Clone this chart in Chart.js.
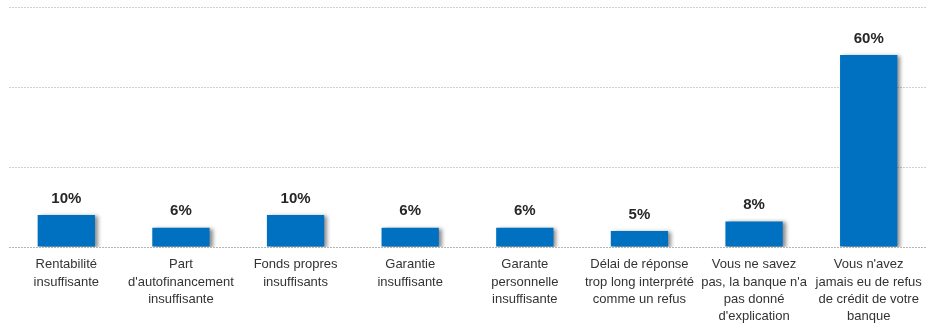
<!DOCTYPE html>
<html>
<head>
<meta charset="utf-8">
<script src="https://cdn.jsdelivr.net/npm/chart.js@4.4.1/dist/chart.umd.min.js"></script>
<style>
  html, body { margin: 0; padding: 0; background: #fff; }
  #wrap { width: 931px; height: 327px; position: relative; }
</style>
</head>
<body>
<div id="wrap"><canvas id="chart"></canvas></div>
<script>
// catégories (une ligne par entrée du tableau)
const CATEGORIES = [
  ['Rentabilité', 'insuffisante'],
  ['Part', "d'autofinancement", 'insuffisante'],
  ['Fonds propres', 'insuffisants'],
  ['Garantie', 'insuffisante'],
  ['Garante', 'personnelle', 'insuffisante'],
  ['Délai de réponse', 'trop long interprété', 'comme un refus'],
  ['Vous ne savez', "pas, la banque n'a", 'pas donné', "d'explication"],
  ["Vous n'avez", 'jamais eu de refus', 'de crédit de votre', 'banque']
];
const VALUES = [10, 6, 10, 6, 6, 5, 8, 60];
const Y_MAX = 75;
const Y_STEP = 25;

const BAR_COLOR = '#0070C0';

// ombre portée sous les barres
const barShadow = {
  id: 'barShadow',
  beforeDatasetsDraw(chart) {
    const ctx = chart.ctx;
    ctx.save();
    ctx.shadowColor = 'rgba(0,0,0,0.45)';
    ctx.shadowBlur = 4;
    ctx.shadowOffsetX = 3;
    ctx.shadowOffsetY = 1;
  },
  afterDatasetsDraw(chart) {
    chart.ctx.restore();
  }
};

// étiquettes de valeur au-dessus des barres
const valueLabels = {
  id: 'valueLabels',
  afterDatasetsDraw(chart) {
    const ctx = chart.ctx;
    const meta = chart.getDatasetMeta(0);
    ctx.save();
    ctx.font = 'bold 15px "Liberation Sans Narrow", "Liberation Sans", Arial, sans-serif';
    ctx.fillStyle = '#262626';
    ctx.textAlign = 'center';
    ctx.textBaseline = 'bottom';
    meta.data.forEach((bar, i) => {
      ctx.fillText(VALUES[i] + '%', bar.x, bar.y - 9);
    });
    ctx.restore();
  }
};

new Chart(document.getElementById('chart'), {
  type: 'bar',
  data: {
    labels: CATEGORIES,
    datasets: [{
      data: VALUES,
      backgroundColor: BAR_COLOR,
      barPercentage: 0.5,
      categoryPercentage: 1.0
    }]
  },
  options: {
    responsive: true,
    maintainAspectRatio: false,
    animation: false,
    layout: { padding: { left: 9, right: 3, top: 7, bottom: 0 } },
    plugins: {
      legend: { display: false },
      tooltip: { enabled: false }
    },
    scales: {
      x: {
        grid: { display: false, drawTicks: false },
        border: { display: false },
        ticks: {
          autoSkip: false,
          maxRotation: 0,
          padding: 9,
          color: '#333',
          font: { family: '"Liberation Sans", Arial, sans-serif', size: 13, lineHeight: 1.33 }
        },
        afterFit(scale) { scale.height = 80; }
      },
      y: {
        min: 0,
        max: Y_MAX,
        ticks: { display: false, stepSize: Y_STEP },
        border: { display: false, dash: [2, 1] },
        grid: {
          drawTicks: false,
          color: (c) => c.tick && c.tick.value === 0 ? '#b5b5b5' : '#cfcfcf',
          lineWidth: 1
        },
        afterFit(scale) { scale.width = 0; }
      }
    }
  },
  plugins: [barShadow, valueLabels]
});
</script>
</body>
</html>
